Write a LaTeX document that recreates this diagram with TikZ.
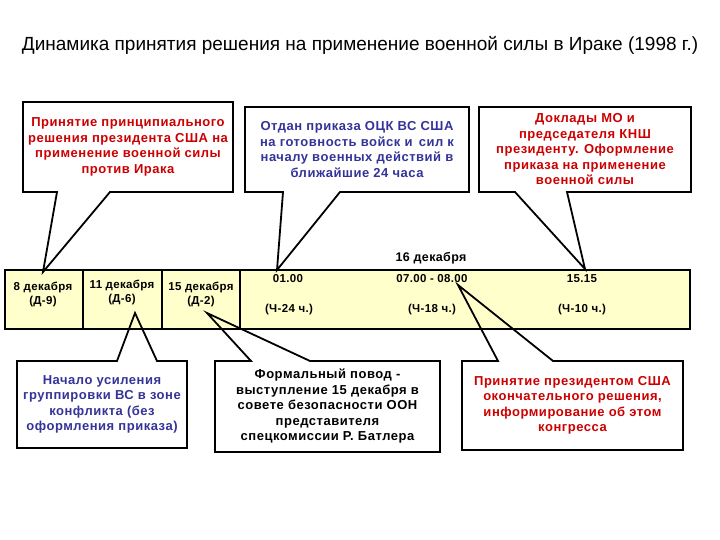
\documentclass[tikz,border=0pt]{standalone}
\usepackage{fontspec}
\setmainfont{Liberation Sans}
\usetikzlibrary{calc}
\definecolor{barfill}{HTML}{FFFFCC}
\definecolor{txtred}{HTML}{CC0000}
\definecolor{txtblue}{HTML}{333399}
\tikzset{
  cbox/.style={draw=none, align=center, inner sep=0pt, outer sep=0pt,
    font=\bfseries\fontsize{13}{15.5}\selectfont\addfontfeature{LetterSpace=4}},
  cline/.style={line width=1.8pt, line join=miter},
  bartext/.style={align=center, inner sep=0pt,
    font=\bfseries\fontsize{11.5}{14}\selectfont\addfontfeature{LetterSpace=3}},
}
\begin{document}
\begin{tikzpicture}[x=1pt, y=-1pt]
	%%%%% START %%%%%
	\useasboundingbox (0,0) rectangle (720,540);
	\node[font=\fontsize{19}{22}\selectfont] (title) at (360,45) {Динамика принятия решения на применение военной силы в Ираке (1998 г.)};
	
	%% timeline bar
	\draw[line width=1.5pt, fill=barfill] (5,270) rectangle (690,329);
	\draw[line width=1.5pt] (83,270) -- (83,329);
	\draw[line width=1.5pt] (162,270) -- (162,329);
	\draw[line width=1.5pt] (240,270) -- (240,329);
	
	\node[bartext] (d8) at (43,294) {8 декабря\\(Д-9)};
	\node[bartext] (d11) at (122,292) {11 декабря\\(Д-6)};
	\node[bartext] (d15) at (201,294) {15 декабря\\(Д-2)};
	\node[bartext, font=\bfseries\fontsize{12.5}{14}\selectfont\addfontfeature{LetterSpace=3}] (d16) at (431,258) {16 декабря};
	\node[bartext] (t0100) at (288,279) {01.00};
	\node[bartext] (h24) at (289,310) {(Ч-24 ч.)};
	\node[bartext] (t0700) at (432,279) {07.00 - 08.00};
	\node[bartext] (h18) at (432,310) {(Ч-18 ч.)};
	\node[bartext] (t1515) at (582,279) {15.15};
	\node[bartext] (h10) at (582,310) {(Ч-10 ч.)};
	
	%% pointer tips
	\coordinate (tipA) at (43,272);
	\coordinate (tipB) at (277,270);
	\coordinate (tipC) at (585,269);
	\coordinate (tipD) at (135,313);
	\coordinate (tipE) at (207,313);
	\coordinate (tipF) at (458,285);
	
	%% callouts above
	\node[cbox, txtred, minimum width=210pt, minimum height=90pt] (reshenie) at (128,147) {Принятие принципиального\\решения президента США на\\применение военной силы\\против Ирака};
	\draw[cline] (reshenie.north west) -- (reshenie.north east) -- (reshenie.south east) -- ($(reshenie.south west)+(87,0)$) -- (tipA) -- ($(reshenie.south west)+(34,0)$) -- (reshenie.south west) -- cycle;
	
	\node[cbox, txtblue, minimum width=224pt, minimum height=85pt] (prikaz) at (357,149.5) {Отдан приказа ОЦК ВС США\\на готовность войск и\, сил к\\началу военных действий в\\ближайшие 24 часа};
	\draw[cline] (prikaz.north west) -- (prikaz.north east) -- (prikaz.south east) -- ($(prikaz.south west)+(95,0)$) -- (tipB) -- ($(prikaz.south west)+(38,0)$) -- (prikaz.south west) -- cycle;
	
	\node[cbox, txtred, minimum width=212pt, minimum height=85pt] (doklad) at (585,149.5) {Доклады МО и\\председателя КНШ\\президенту. Оформление\\приказа на применение\\военной силы};
	\draw[cline] (doklad.north west) -- (doklad.north east) -- (doklad.south east) -- ($(doklad.south west)+(88,0)$) -- (tipC) -- ($(doklad.south west)+(36,0)$) -- (doklad.south west) -- cycle;
	
	%% callouts below
	\node[cbox, txtblue, minimum width=170pt, minimum height=87pt] (usilenie) at (102,404.5) {Начало усиления\\группировки ВС в зоне\\конфликта (без\\оформления приказа)};
	\draw[cline] (usilenie.north west) -- ($(usilenie.north west)+(100,0)$) -- (tipD) -- ($(usilenie.north west)+(140,0)$) -- (usilenie.north east) -- (usilenie.south east) -- (usilenie.south west) -- cycle;
	
	\node[cbox, black, minimum width=225pt, minimum height=91pt] (povod) at (327.5,406.5) {Формальный повод -\\выступление 15 декабря в\\совете безопасности ООН\\представителя\\спецкомиссии Р. Батлера};
	\draw[cline] (povod.north west) -- ($(povod.north west)+(36,0)$) -- (tipE) -- ($(povod.north west)+(95,0)$) -- (povod.north east) -- (povod.south east) -- (povod.south west) -- cycle;
	
	\node[cbox, txtred, minimum width=221pt, minimum height=89pt] (okonch) at (572.5,405.5) {Принятие президентом США\\окончательного решения,\\информирование об этом\\конгресса};
	\draw[cline] (okonch.north west) -- ($(okonch.north west)+(36,0)$) -- (tipF) -- ($(okonch.north west)+(91,0)$) -- (okonch.north east) -- (okonch.south east) -- (okonch.south west) -- cycle;
	%%%%% END %%%%%
\end{tikzpicture}
\end{document}
